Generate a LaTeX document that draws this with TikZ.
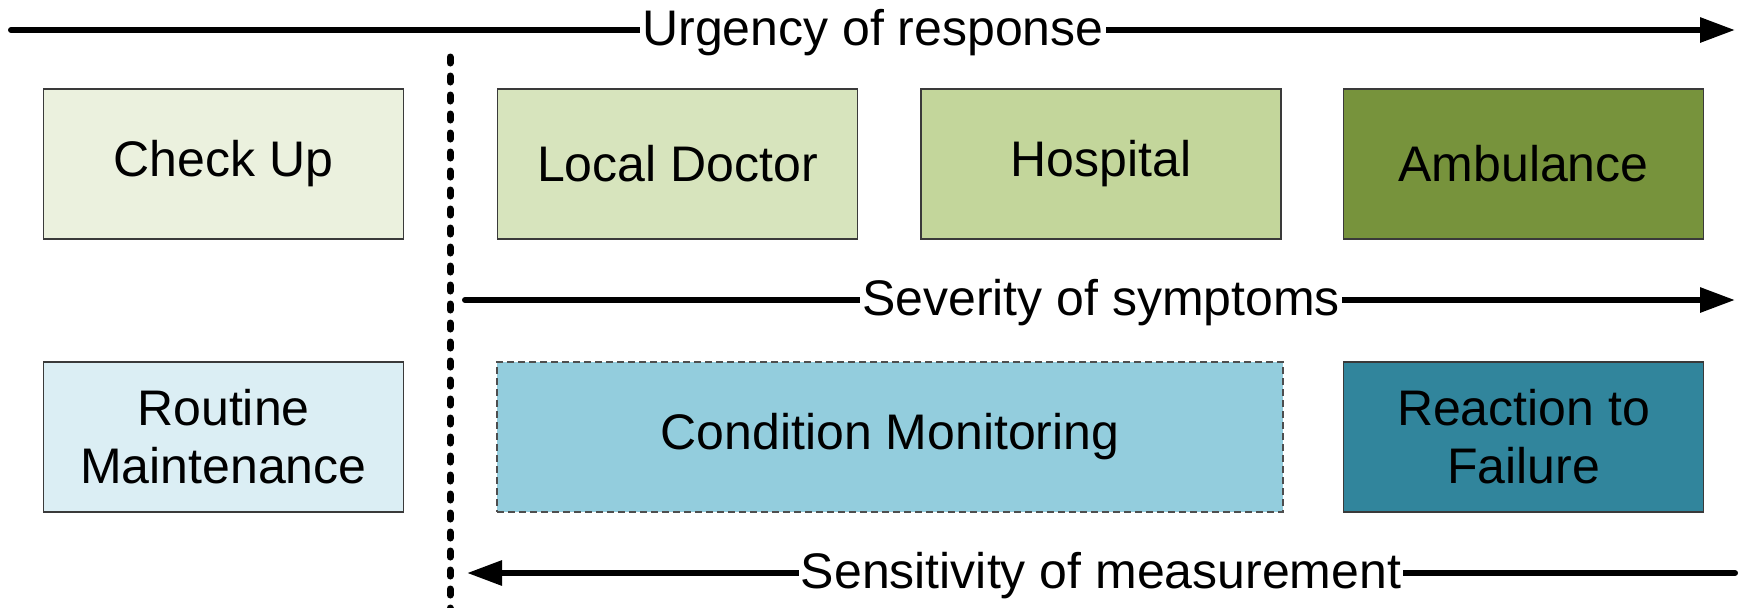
\documentclass[tikz,border=0pt]{standalone}
\usepackage{fontspec}
\setmainfont{Liberation Sans}
\usetikzlibrary{arrows.meta}
\definecolor{cCheck}{HTML}{EBF1DE}
\definecolor{cDoctor}{HTML}{D7E4BD}
\definecolor{cHosp}{HTML}{C3D69B}
\definecolor{cAmb}{HTML}{77933C}
\definecolor{cRoutine}{HTML}{DBEEF4}
\definecolor{cCond}{HTML}{93CDDD}
\definecolor{cReact}{HTML}{31859C}
\definecolor{boxline}{HTML}{3A3A3A}
\begin{document}
\begin{tikzpicture}[x=0.5pt,y=-0.5pt,
  box/.style={draw=boxline, line width=0.75pt, minimum width=180pt, minimum height=75pt,
    inner sep=0pt, font=\fontsize{25}{29}\selectfont, align=center},
  dashbox/.style={box, dash pattern=on 3.5pt off 2pt, draw=boxline!90},
  axis/.style={line width=3pt, line cap=round, black},
  tipR/.style={-{Triangle[length=17.5pt,width=12pt]}},
  lbl/.style={fill=white, inner xsep=1pt, inner ysep=1pt, anchor=base, font=\fontsize{25}{29}\selectfont},
  dotline/.style={line width=3.5pt, line cap=round, dash pattern=on 3pt off 6.5pt}
]
\useasboundingbox (0,0) rectangle (1744,607);

% dotted separator
\coordinate (d0) at (450,57);
\coordinate (d1) at (450,612);
\draw[dotline] (d0) -- (d1);

% urgency axis
\coordinate (u0) at (11,30);
\coordinate (u1) at (1735,30);
\draw[axis,tipR] (u0) -- (u1);
\node[lbl] (urg) at (873,45) {Urgency of response};

% severity axis
\coordinate (s0) at (465,300);
\coordinate (s1) at (1735,300);
\draw[axis,tipR] (s0) -- (s1);
\node[lbl] (sev) at (1101,315) {Severity of symptoms};

% sensitivity axis
\coordinate (m0) at (1735,573);
\coordinate (m1) at (467,573);
\draw[axis,tipR] (m0) -- (m1);
\node[lbl] (sen) at (1101,588) {Sensitivity of measurement};

% row 1
\node[box, fill=cCheck] (check) at (223.5,164) {Check Up};
\node[box, fill=cDoctor] (doctor) at (677.5,164) {Local Doctor};
\node[box, fill=cHosp] (hosp) at (1101,164) {Hospital};
\node[box, fill=cAmb] (amb) at (1523.5,164) {Ambulance};

% row 2
\node[box, fill=cRoutine] (routine) at (223.5,437) {Routine\\Maintenance};
\node[dashbox, fill=cCond, minimum width=393pt] (cond) at (890,437) {Condition Monitoring};
\node[box, fill=cReact] (react) at (1523.5,437) {Reaction to\\Failure};
\end{tikzpicture}
\end{document}
